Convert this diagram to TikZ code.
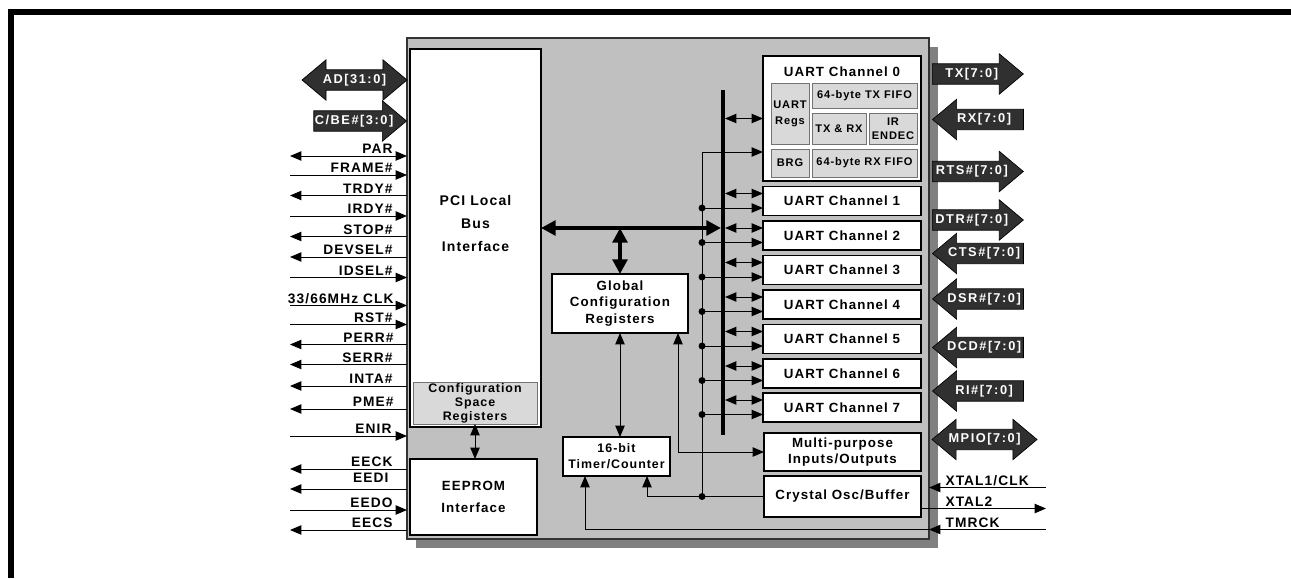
\documentclass[tikz,border=0pt]{standalone}
\usepackage{fontspec}
\setmainfont{Liberation Sans}[LetterSpace=8]
\usepackage{tikz}
\usetikzlibrary{arrows.meta,shapes.arrows}

\definecolor{chipfill}{RGB}{192,192,192}
\definecolor{chipshade}{RGB}{128,128,128}
\definecolor{cfgfill}{RGB}{217,217,217}
\definecolor{arrfill}{RGB}{48,48,48}

\tikzset{
  box/.style={draw, line width=1.4pt, fill=white, inner sep=0pt, outer sep=0pt, align=center, font=\fontsize{10}{12.2}\selectfont\bfseries},
  subbox/.style={draw=black!55, line width=0.7pt, fill=cfgfill, inner sep=0pt, outer sep=0pt, align=center, font=\fontsize{8.3}{10.7}\selectfont\bfseries},
  txt/.style={inner sep=0pt, align=center, font=\fontsize{10}{12.2}\selectfont\bfseries},
  sig/.style={inner sep=0pt, anchor=base east, font=\fontsize{10.3}{12}\selectfont\bfseries},
  sigr/.style={sig, anchor=base west},
  bus/.style={line width=3pt, >={Triangle[length=11pt,width=11pt]}},
  portr/.style={single arrow, draw=black, line width=0.5pt, fill=arrfill, text=white, font=\fontsize{9.6}{10}\selectfont\bfseries\addfontfeature{LetterSpace=12}, single arrow head extend=7.5pt, single arrow tip angle=80, inner xsep=0.5pt, inner ysep=3pt, text height=6.8pt, text depth=2pt, minimum height=68.25pt},
  portd/.style={double arrow, draw=black, line width=0.5pt, fill=arrfill, text=white, font=\fontsize{9.6}{10}\selectfont\bfseries\addfontfeature{LetterSpace=12}, double arrow head extend=7.5pt, double arrow tip angle=80, inner xsep=0.5pt, inner ysep=3pt, text height=6.8pt, text depth=2pt, minimum height=78.75pt}
}

\begin{document}
\begin{tikzpicture}[x=0.75pt, y=-0.75pt, line width=0.75pt, >={Triangle[length=8.5pt,width=7pt]}]
  \useasboundingbox (0,0) rectangle (1291,578);
  % frame
  \draw[line width=4.5pt] (11,578) -- (11,12) -- (1291,12);

  % chip body
  \fill[chipshade] (416,47) rectangle (938,548);
  \node[draw=black!80, line width=0.8pt, fill=chipfill, inner sep=0pt, outer sep=0pt, minimum width=391.5pt, minimum height=375.75pt] (chip) at (668,288.5) {};

  % PCI side
  \node[box, minimum width=98.25pt, minimum height=283.5pt] (pci) at (475.5,238) {};
  \node[txt, font=\fontsize{10.5}{17.25}\selectfont\bfseries] (pcit) at (475.5,223) {PCI Local\\Bus\\Interface};
  \node[subbox, minimum width=93pt, minimum height=31.5pt, font=\fontsize{9.3}{10.5}\selectfont\bfseries] (cfgsp) at (475,403) {Configuration\\Space\\Registers};
  \node[box, minimum width=95.25pt, minimum height=57pt, font=\fontsize{10}{16.5}\selectfont\bfseries] (eeprom) at (473.5,497) {EEPROM\\Interface};
  \draw[<->] (cfgsp.south) -- (cfgsp.south |- eeprom.north);

  % middle blocks
  \node[box, minimum width=102pt, minimum height=44.25pt] (gcr) at (620,303.5) {Global\\Configuration\\Registers};
  \node[box, minimum width=80.25pt, minimum height=29.25pt, font=\fontsize{9.3}{12}\selectfont\bfseries] (tmr) at (616.5,456.5) {16-bit\\Timer/Counter};
  \node[box, minimum width=117.75pt, minimum height=28.5pt, font=\fontsize{10}{11.5}\selectfont\bfseries] (mpio) at (842.5,452) {Multi-purpose\\Inputs/Outputs};
  \node[box, minimum width=117.75pt, minimum height=30.75pt] (xtal) at (842.5,496.5) {Crystal Osc/Buffer};

  % UART channel 0
  \node[box, minimum width=118.5pt, minimum height=93.75pt] (u0) at (842,118.5) {};
  \node[txt] (u0t) at (842,72) {UART Channel 0};
  \node[subbox, minimum width=28.5pt, minimum height=45.75pt, font=\fontsize{8.3}{12}\selectfont\bfseries] (regs) at (790,113.5) {UART\\Regs};
  \node[subbox, minimum width=78.75pt, minimum height=18.75pt] (txf) at (864.5,95.5) {64-byte TX FIFO};
  \node[subbox, minimum width=40.5pt, minimum height=23.25pt] (txrx) at (839,128.5) {TX \& RX};
  \node[subbox, minimum width=36pt, minimum height=23.25pt] (irda) at (893,128.5) {IR\\ENDEC};
  \node[subbox, minimum width=28.5pt, minimum height=21pt] (brg) at (790,163) {BRG};
  \node[subbox, minimum width=78.75pt, minimum height=21pt] (rxf) at (864.5,163) {64-byte RX FIFO};

  % UART channels 1-7
  \node[box, minimum width=118.5pt, minimum height=21.75pt] (u1) at (842,201) {UART Channel 1};
  \node[box, minimum width=118.5pt, minimum height=21.75pt] (u2) at (842,235.5) {UART Channel 2};
  \node[box, minimum width=118.5pt, minimum height=21.75pt] (u3) at (842,270) {UART Channel 3};
  \node[box, minimum width=118.5pt, minimum height=21.75pt] (u4) at (842,304.5) {UART Channel 4};
  \node[box, minimum width=118.5pt, minimum height=21.75pt] (u5) at (842,339) {UART Channel 5};
  \node[box, minimum width=118.5pt, minimum height=21.75pt] (u6) at (842,373.5) {UART Channel 6};
  \node[box, minimum width=118.5pt, minimum height=21.75pt] (u7) at (842,407.5) {UART Channel 7};

  % internal bus
  \coordinate (busT) at (723,90);
  \coordinate (busB) at (723,435);
  \coordinate (busM) at (723,228);
  \draw[line width=3pt] (busT) -- (busB);
  \draw[bus,<->] (pci.east |- busM) -- ([xshift=-1.5pt]busM);
  \draw[bus,<->] (gcr.north |- busM) -- (gcr.north);
  \draw[<->] (gcr.south) -- (gcr.south |- tmr.north);
  \coordinate (gcrB) at (678,333);
  \draw[<->] (gcrB) |- (mpio.west);

  % bus taps
  \coordinate (b0) at (725,118.5);
  \coordinate (b1) at (725,193.5);
  \coordinate (b2) at (725,228);
  \coordinate (b3) at (725,262.5);
  \coordinate (b4) at (725,297);
  \coordinate (b5) at (725,331.5);
  \coordinate (b6) at (725,366);
  \coordinate (b7) at (725,400);
  \draw[<->] (b0) -- (b0 -| u0.west);
  \draw[<->] (b1) -- (b1 -| u1.west);
  \draw[<->] (b2) -- (b2 -| u2.west);
  \draw[<->] (b3) -- (b3 -| u3.west);
  \draw[<->] (b4) -- (b4 -| u4.west);
  \draw[<->] (b5) -- (b5 -| u5.west);
  \draw[<->] (b6) -- (b6 -| u6.west);
  \draw[<->] (b7) -- (b7 -| u7.west);

  % clock distribution
  \coordinate (ck) at (702,496.5);
  \coordinate (ckT) at (702,152);
  \coordinate (tmrA) at (585,476);
  \coordinate (tmrB) at (647,476);
  \draw[->] (xtal.west) -| (tmrB);
  \draw (ck) -- (ckT);
  \draw[->] (ckT) -- (ckT -| u0.west);
  \coordinate (c1) at (702,208);
  \coordinate (c2) at (702,242.5);
  \coordinate (c3) at (702,277);
  \coordinate (c4) at (702,311.5);
  \coordinate (c5) at (702,346);
  \coordinate (c6) at (702,380.5);
  \coordinate (c7) at (702,414.5);
  \draw[->] (c1) -- (c1 -| u1.west);
  \draw[->] (c2) -- (c2 -| u2.west);
  \draw[->] (c3) -- (c3 -| u3.west);
  \draw[->] (c4) -- (c4 -| u4.west);
  \draw[->] (c5) -- (c5 -| u5.west);
  \draw[->] (c6) -- (c6 -| u6.west);
  \draw[->] (c7) -- (c7 -| u7.west);
  \fill (c1) circle (2.6pt);
  \fill (c2) circle (2.6pt);
  \fill (c3) circle (2.6pt);
  \fill (c4) circle (2.6pt);
  \fill (c5) circle (2.6pt);
  \fill (c6) circle (2.6pt);
  \fill (c7) circle (2.6pt);
  \fill (ck) circle (2.6pt);

  % PCI pins
  \node[portd] (ad) at (354.5,80) {AD[31:0]};
  \node[portr, anchor=tip, minimum height=67.5pt] (cbe) at (407,121) {C/BE\#[3:0]};
  \coordinate (par) at (290,156);
  \draw[<->] (par) -- (par -| chip.west);
  \node[sig] (parl) at (393,153.5) {PAR};
  \coordinate (frame) at (290,175);
  \draw[->] (frame) -- (frame -| chip.west);
  \node[sig] (framel) at (393,172.5) {FRAME\#};
  \coordinate (trdy) at (290,195.5);
  \draw[<-] (trdy) -- (trdy -| chip.west);
  \node[sig] (trdyl) at (393,193) {TRDY\#};
  \coordinate (irdy) at (290,216);
  \draw[->] (irdy) -- (irdy -| chip.west);
  \node[sig] (irdyl) at (393,213.5) {IRDY\#};
  \coordinate (stop) at (290,236.5);
  \draw[<-] (stop) -- (stop -| chip.west);
  \node[sig] (stopl) at (393,234) {STOP\#};
  \coordinate (devsel) at (290,257);
  \draw[<-] (devsel) -- (devsel -| chip.west);
  \node[sig] (devsell) at (393,254.5) {DEVSEL\#};
  \coordinate (idsel) at (290,277.5);
  \draw[->] (idsel) -- (idsel -| chip.west);
  \node[sig] (idsell) at (393,275) {IDSEL\#};
  \coordinate (pciclk) at (290,305.5);
  \draw[->] (pciclk) -- (pciclk -| chip.west);
  \node[sig] (pciclkl) at (394,303) {33/66MHz CLK};
  \coordinate (rst) at (290,324.5);
  \draw[->] (rst) -- (rst -| chip.west);
  \node[sig] (rstl) at (393,322) {RST\#};
  \coordinate (perr) at (290,344.5);
  \draw[<-] (perr) -- (perr -| chip.west);
  \node[sig] (perrl) at (394,342) {PERR\#};
  \coordinate (serr) at (290,364.5);
  \draw[<-] (serr) -- (serr -| chip.west);
  \node[sig] (serrl) at (393,362) {SERR\#};
  \coordinate (inta) at (290,386);
  \draw[<-] (inta) -- (inta -| chip.west);
  \node[sig] (intal) at (393,383.5) {INTA\#};
  \coordinate (pme) at (290,409);
  \draw[<-] (pme) -- (pme -| chip.west);
  \node[sig] (pmel) at (394,406.5) {PME\#};
  \coordinate (enir) at (290,436);
  \draw[->] (enir) -- (enir -| chip.west);
  \node[sig] (enirl) at (392,433.5) {ENIR};

  % EEPROM pins
  \coordinate (eeck) at (290,469);
  \draw[<-] (eeck) -- (eeck -| chip.west);
  \node[sig] (eeckl) at (393,466.5) {EECK};
  \coordinate (eedi) at (290,489);
  \draw[<-] (eedi) -- (eedi -| chip.west);
  \node[sig] (eedil) at (389,482.5) {EEDI};
  \coordinate (eedo) at (290,510);
  \draw[->] (eedo) -- (eedo -| chip.west);
  \node[sig] (eedol) at (393,507.5) {EEDO};
  \coordinate (eecs) at (290,530);
  \draw[<-] (eecs) -- (eecs -| chip.west);
  \node[sig] (eecsl) at (393,527.5) {EECS};

  % serial port pins
  \node[portr, anchor=tail] (tx) at (932,74) {TX[7:0]};
  \node[portr, shape border rotate=180, anchor=tip] (rx) at (932,119.5) {RX[7:0]};
  \node[portr, anchor=tail] (rts) at (932,171.5) {RTS\#[7:0]};
  \node[portr, anchor=tail] (dtr) at (932,220) {DTR\#[7:0]};
  \node[portr, shape border rotate=180, anchor=tip] (cts) at (932,253.5) {CTS\#[7:0]};
  \node[portr, shape border rotate=180, anchor=tip] (dsr) at (932,299) {DSR\#[7:0]};
  \node[portr, shape border rotate=180, anchor=tip] (dcd) at (932,347.5) {DCD\#[7:0]};
  \node[portr, shape border rotate=180, anchor=tip] (ri) at (932,391) {RI\#[7:0]};
  \node[portd] (mpiop) at (984.5,439.5) {MPIO[7:0]};

  % clock pins
  \coordinate (xt1) at (1046,487.5);
  \draw[->] (xt1) -- (xt1 -| chip.east);
  \node[sigr] (xt1l) at (945,485) {XTAL1/CLK};
  \coordinate (xt2) at (1046,508.5);
  \draw[->] (xt2 -| xtal.east) -- (xt2);
  \node[sigr] (xt2l) at (945,506) {XTAL2};
  \coordinate (tck) at (1046,529.5);
  \draw[->] (tck) -- (tck -| chip.east);
  \draw[->] (tck -| chip.east) -| (tmrA);
  \node[sigr] (tckl) at (945,527) {TMRCK};
\end{tikzpicture}
\end{document}
